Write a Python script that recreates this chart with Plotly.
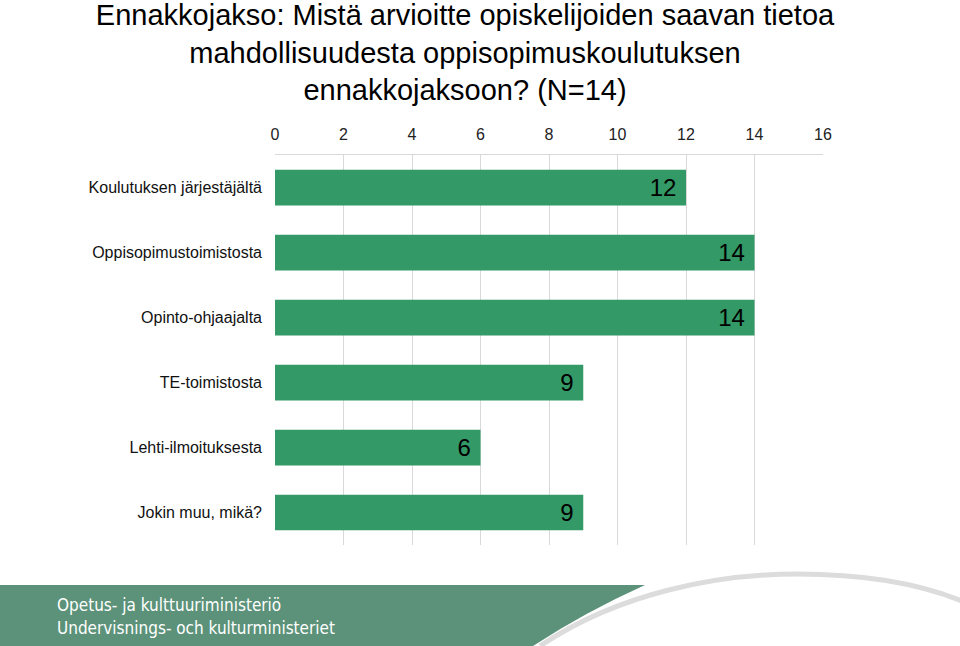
import plotly.graph_objects as go

categories = ["Koulutuksen järjestäjältä", "Oppisopimustoimistosta", "Opinto-ohjaajalta",
              "TE-toimistosta", "Lehti-ilmoituksesta", "Jokin muu, mikä?"]
values = [12, 14, 14, 9, 6, 9]
x_ticks = [0, 2, 4, 6, 8, 10, 12, 14, 16]
title_text = ("Ennakkojakso: Mistä arvioitte opiskelijoiden saavan tietoa<br>"
              "mahdollisuudesta oppisopimuskoulutuksen<br>ennakkojaksoon? (N=14)")
banner_lines = ["Opetus- ja kulttuuriministeriö", "Undervisnings- och kulturministeriet"]

W, H = 960, 646
ML, MR, MT, MB = 275, 137, 155, 101
PW, PH = W - ML - MR, H - MT - MB

def px(x):
    return (x - ML) / PW

def py(y):
    return (H - MB - y) / PH

fig = go.Figure(go.Bar(
    x=values, y=categories, orientation="h",
    marker=dict(color="#339966", line=dict(width=0)),
    text=[f"{v}&nbsp;" for v in values], textposition="inside", insidetextanchor="end",
    textfont=dict(family="Liberation Sans, Arial", size=24, color="#000000"),
    constraintext="none", cliponaxis=False,
))

green = ("M {} {} L {} {} Q {} {} {} {} L {} {} Z").format(
    px(0), py(585), px(645), py(585), px(585), py(612), px(533), py(646), px(0), py(646))
arc = ("M {} {} C {} {} {} {} {} {} C {} {} {} {} {} {}").format(
    px(540), py(646), px(620), py(592), px(720), py(574), px(797), py(574),
    px(870), py(574), px(925), py(586), px(962), py(601))

shapes = [
    dict(type="path", xref="paper", yref="paper", path=green,
         fillcolor="#5b9279", line=dict(width=0), layer="above"),
    dict(type="path", xref="paper", yref="paper", path=arc,
         line=dict(color="#dcdcdc", width=5), layer="above"),
]

annotations = []
for i, t in enumerate(banner_lines):
    annotations.append(dict(
        text=t, xref="paper", yref="paper", x=px(55), y=py(605 + i * 23),
        xanchor="left", yanchor="middle", showarrow=False,
        font=dict(family="DejaVu Sans Condensed, DejaVu Sans", size=17, color="white")))

fig.update_layout(
    width=W, height=H,
    margin=dict(l=ML, r=MR, t=MT, b=MB),
    paper_bgcolor="white", plot_bgcolor="white",
    title=dict(text=title_text, x=465 / W, xanchor="center", y=1 - 25 / H, yanchor="middle",
               font=dict(family="Liberation Sans, Arial", size=29, color="#000000")),
    bargap=0.45,
    showlegend=False,
    xaxis=dict(side="top", range=[0, 16], tickvals=x_ticks, ticktext=[str(v) for v in x_ticks],
               showgrid=True, gridcolor="#d9d9d9", gridwidth=1, zeroline=False,
               showline=True, linecolor="#d9d9d9", linewidth=1,
               ticks="", ticklabelstandoff=8,
               tickfont=dict(family="Liberation Sans, Arial", size=16, color="#222222")),
    yaxis=dict(autorange="reversed", showgrid=False, zeroline=False, showline=False,
               ticks="", ticklabelstandoff=12,
               tickfont=dict(family="Liberation Sans, Arial", size=16, color="#111111")),
    shapes=shapes,
    annotations=annotations,
)

fig.write_html("out.html")
